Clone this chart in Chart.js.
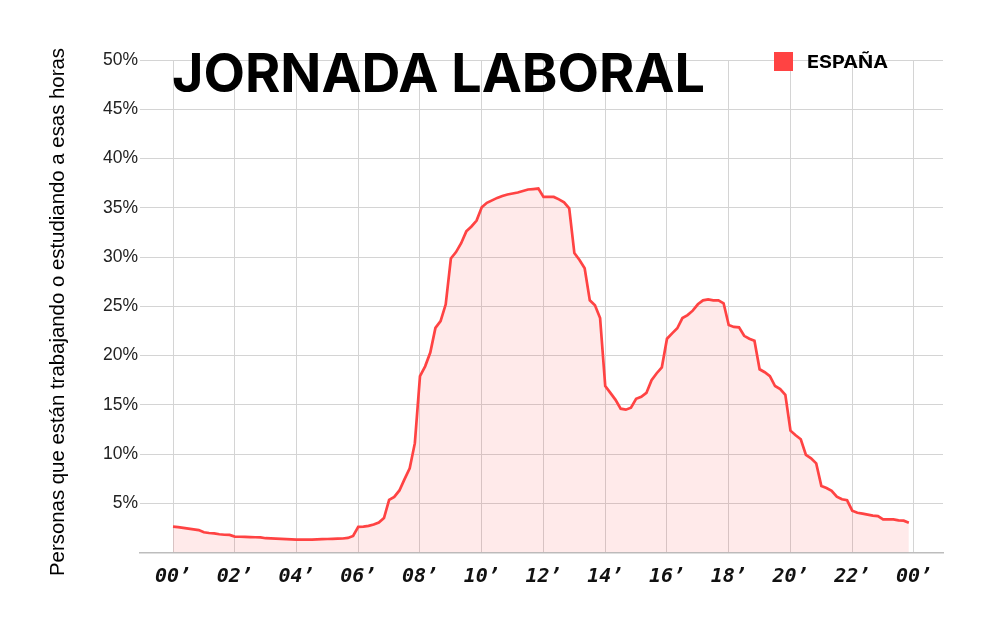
<!DOCTYPE html>
<html lang="es">
<head>
<meta charset="utf-8">
<title>Jornada laboral</title>
<script src="https://cdn.jsdelivr.net/npm/chart.js@4.4.1/dist/chart.umd.min.js"></script>
<style>
    html, body { margin: 0; padding: 0; background: #fff; }
    #wrap { width: 1000px; height: 624px; }
</style>
</head>
<body>
<div id="wrap"><canvas id="jornadaChart" width="1000" height="624"></canvas></div>
<script>
// Share of people working or studying, one value every 10 minutes from 00:00 to 23:50
const stepMinutes = 10;
const espana = [
    2.62, 2.58, 2.50, 2.42, 2.35, 2.28,
    2.05, 1.98, 1.94, 1.85, 1.80, 1.78,
    1.62, 1.60, 1.58, 1.56, 1.55, 1.53,
    1.45, 1.43, 1.41, 1.38, 1.35, 1.33,
    1.30, 1.30, 1.30, 1.31, 1.33, 1.35,
    1.37, 1.38, 1.40, 1.42, 1.48, 1.68,
    2.60, 2.63, 2.70, 2.85, 3.05, 3.50,
    5.35, 5.65, 6.30, 7.45, 8.55, 11.10,
    17.90, 18.90, 20.30, 22.80, 23.50, 25.20,
    29.85, 30.50, 31.40, 32.60, 33.10, 33.70,
    35.05, 35.50, 35.75, 36.00, 36.20, 36.35,
    36.45, 36.55, 36.70, 36.85, 36.90, 36.95,
    36.10, 36.10, 36.10, 35.85, 35.55, 34.95,
    30.40, 29.70, 28.85, 25.60, 25.10, 23.80,
    16.90, 16.20, 15.50, 14.60, 14.50, 14.70,
    15.60, 15.80, 16.20, 17.50, 18.20, 18.80,
    21.70, 22.25, 22.76, 23.80, 24.10, 24.55,
    25.20, 25.60, 25.70, 25.60, 25.60, 25.30,
    23.10, 22.90, 22.86, 22.00, 21.70, 21.50,
    18.60, 18.30, 17.90, 16.90, 16.60, 16.00,
    12.37, 11.90, 11.50, 9.90, 9.56, 9.05,
    6.75, 6.55, 6.27, 5.67, 5.40, 5.30,
    4.25, 4.04, 3.95, 3.85, 3.75, 3.70,
    3.37, 3.37, 3.37, 3.27, 3.23, 3.03
];
const xTickHours = [0, 2, 4, 6, 8, 10, 12, 14, 16, 18, 20, 22, 24];
const xTickLabels = ['00’', '02’', '04’', '06’', '08’', '10’', '12’', '14’', '16’', '18’', '20’', '22’', '00’'];
const yTicks = [0, 5, 10, 15, 20, 25, 30, 35, 40, 45, 50];

const chartTitle = 'JORNADA LABORAL';
const seriesName = 'ESPAÑA';
const yAxisTitle = 'Personas que están trabajando o estudiando a esas horas';

const RED = '#ff4343';

// Draw text squeezed/stretched to a given width
function fitText(ctx, text, x, y, width) {
    const w = ctx.measureText(text).width;
    ctx.save();
    ctx.translate(x, y);
    ctx.scale(width / w, 1);
    ctx.fillText(text, 0, 0);
    ctx.restore();
}

const decorPlugin = {
    id: 'decor',
    afterDraw(chart) {
        const ctx = chart.ctx;
        ctx.save();
        ctx.fillStyle = '#000';
        ctx.textAlign = 'left';
        ctx.textBaseline = 'alphabetic';

        // Big title
        ctx.font = 'bold 53px Inter, "DejaVu Sans", sans-serif';
        fitText(ctx, chartTitle, 172, 92, 533);

        // Legend
        ctx.fillStyle = RED;
        ctx.fillRect(774, 52, 19, 19);
        ctx.fillStyle = '#000';
        ctx.font = 'bold 17.5px Inter, "DejaVu Sans", sans-serif';
        fitText(ctx, seriesName, 807, 68, 81);

        // Rotated y axis title
        ctx.font = '20px "Liberation Sans", Arial, sans-serif';
        ctx.translate(63.5, 576);
        ctx.rotate(-Math.PI / 2);
        fitText(ctx, yAxisTitle, 0, 0, 528);
        ctx.restore();
    }
};

const ctx = document.getElementById('jornadaChart');

new Chart(ctx, {
    type: 'line',
    data: {
        datasets: [{
            label: seriesName,
            data: espana.map((v, i) => ({ x: i * stepMinutes / 60, y: v })),
            borderColor: RED,
            borderWidth: 2.7,
            backgroundColor: 'rgba(255, 67, 67, 0.11)',
            fill: 'origin',
            pointRadius: 0,
            tension: 0
        }]
    },
    options: {
        responsive: false,
        animation: false,
        devicePixelRatio: 1,
        layout: {
            padding: { top: 60, right: 57, left: 0, bottom: 0 }
        },
        plugins: {
            legend: { display: false },
            tooltip: { enabled: false }
        },
        scales: {
            x: {
                type: 'linear',
                min: -1.069,
                max: 24.94,
                afterBuildTicks: (scale) => {
                    scale.ticks = xTickHours.map(h => ({ value: h }));
                },
                afterFit: (scale) => { scale.height = 71.5; },
                grid: { color: '#d4d4d4', lineWidth: 1, drawTicks: false },
                border: { display: true, color: '#bdbdbd', width: 1.5 },
                ticks: {
                    autoSkip: false,
                    maxRotation: 0,
                    padding: 12,
                    color: '#111',
                    font: { family: '"DejaVu Sans Mono", monospace', size: 20, weight: 'bold', style: 'italic' },
                    callback: (value) => xTickLabels[xTickHours.indexOf(value)]
                }
            },
            y: {
                min: 0,
                max: 50,
                afterBuildTicks: (scale) => {
                    scale.ticks = yTicks.map(v => ({ value: v }));
                },
                afterFit: (scale) => { scale.width = 140; },
                grid: { color: '#d4d4d4', lineWidth: 1, drawTicks: false },
                border: { display: false },
                ticks: {
                    padding: 2,
                    color: '#222',
                    font: { family: '"Liberation Sans", Arial, sans-serif', size: 17.5 },
                    callback: (value) => value === 0 ? '' : value + '%'
                }
            }
        }
    },
    plugins: [decorPlugin]
});
</script>
</body>
</html>
